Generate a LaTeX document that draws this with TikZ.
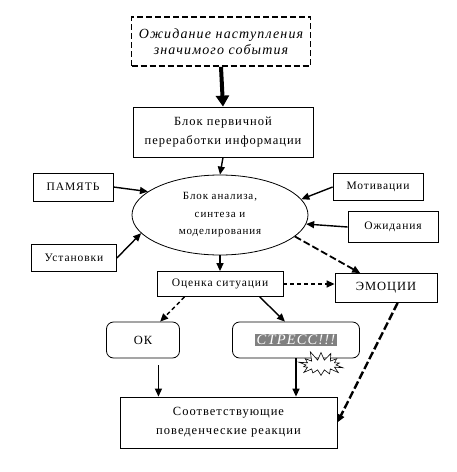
\documentclass[tikz,border=0pt]{standalone}
\usepackage{fontspec}
\setmainfont[LetterSpace=8]{Liberation Serif}
\usetikzlibrary{arrows.meta,shapes}

\begin{document}
\begin{tikzpicture}[x=1pt,y=-1pt,>={Triangle[length=8pt,width=7pt]},line width=1.4pt,
  box/.style={draw,line width=0.8pt,align=center,inner sep=1pt,font=\fontsize{12.5}{19}\selectfont},
  small/.style={box,font=\fontsize{11.5}{16}\selectfont},
  rbox/.style={box,rounded corners=7pt},
  dashline/.style={dashed,dash pattern=on 4pt off 3pt},
  longdash/.style={dashed,dash pattern=on 7pt off 3pt,line width=1.8pt}]
  \useasboundingbox (0,0) rectangle (456,472);
  % top of the scheme
  \node[box,dashed,dash pattern=on 6pt off 3pt,line width=1.8pt,minimum width=179pt,minimum height=49pt,font=\fontsize{14}{15.5}\selectfont\itshape](Wait)at(221, 41.5){Ожидание наступления\\значимого события};
  \node[box,minimum width=180pt,minimum height=50pt](Prim)at(223, 132){Блок первичной\\переработки информации};
  \node[draw,ellipse,line width=0.8pt,align=center,inner sep=0pt,minimum width=176pt,minimum height=80pt,font=\fontsize{11}{17.5}\selectfont](Anal)at(220, 215){Блок анализа,\\синтеза и\\моделирования};
  % side inputs
  \node[small,minimum width=80pt,minimum height=28pt](Mem)at(73, 187){ПАМЯТЬ};
  \node[small,minimum width=90pt,minimum height=27pt](Motiv)at(378, 187){Мотивации};
  \node[small,minimum width=90pt,minimum height=31pt](Expect)at(393, 227){Ожидания};
  \node[small,minimum width=85pt,minimum height=27pt](Inst)at(74, 258){Установки};
  % assessment
  \node[small,minimum width=126pt,minimum height=25pt](Est)at(220, 284){Оценка ситуации};
  \node[box,minimum width=102pt,minimum height=29pt](Emo)at(386, 288){ЭМОЦИИ};
  \node[rbox,minimum width=73pt,minimum height=36pt](Ok)at(143, 340){ОК};
  \node[rbox,minimum width=127pt,minimum height=36pt](Stress)at(296, 340){\setlength{\fboxsep}{1.5pt}\colorbox[gray]{0.5}{\fontsize{14.5}{15}\selectfont\color{white}\itshape СТРЕСС!!!}};
  \node[draw,starburst,fill=white,line width=0.6pt,random starburst=11,starburst points=14,starburst point height=10pt,minimum width=50pt,minimum height=30pt,inner sep=0pt](Boom)at(321, 365){};
  \node[box,minimum width=217pt,minimum height=51pt](React)at(228.5, 422.5){Соответствующие\\поведенческие реакции};
  \path[->]
    (Prim.south) edge (Anal.north)
    (Mem.east) edge (Anal.162)
    (Motiv.west) edge (Anal.11)
    (Expect.west) edge (Anal.-6)
    (Inst.east) edge (Anal.193)
    (Anal.south) edge (Est.north)
    (Anal.-16) edge[longdash] (Emo.150)
    (Est.east) edge[dashline] (Est.east -| Emo.west)
    (Est.200) edge[dashline] (Ok.47)
    (Est.-18) edge (Stress.121)
    (Ok.-50) edge[shorten <=7pt] (Ok.-50 |- React.north)
    (Stress.south) edge (Stress.south |- React.north)
    (Emo.-52) edge[longdash,dash pattern=on 8pt off 3pt,line width=2.4pt] (React.east);
  \draw[-{Triangle[length=11pt,width=13pt]},line width=4pt](Wait.south)--(Prim.north);
\end{tikzpicture}
\end{document}
